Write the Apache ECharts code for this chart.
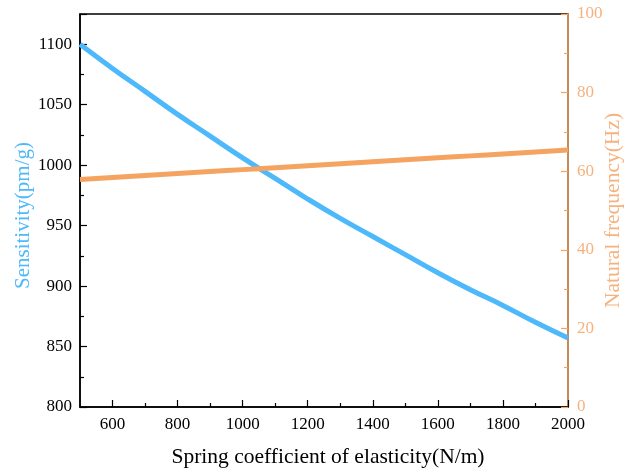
<!DOCTYPE html>
<html>
<head>
<meta charset="utf-8">
<script src="https://cdn.jsdelivr.net/npm/echarts@6/dist/echarts.min.js"></script>
<style>html,body{margin:0;padding:0;background:#fff}#c{width:625px;height:470px}</style>
</head>
<body>
<div id="c"></div>
<script>
var springK = [500,600,700,800,900,1000,1100,1200,1300,1400,1500,1600,1700,1800,1900,2000];
var sensitivity = [1100,1080,1061,1042,1024,1006,989,972,956,941,926,911,897,884,870,857];
var naturalFreq = [57.9,58.4,58.9,59.4,59.9,60.4,60.9,61.4,61.9,62.4,62.9,63.4,63.9,64.4,64.9,65.4];
var xMajorTicks = [600,800,1000,1200,1400,1600,1800,2000];
var xMinorTicks = [700,900,1100,1300,1500,1700,1900];

var BLUE = '#4DB8FA';
var ORANGE = '#F4A460';
var ORANGE_TXT = '#F5B27E';
var FONT = 'Liberation Serif';

function pairs(xs, ys){ return xs.map(function(x,i){ return [x, ys[i]]; }); }
function plain(v){ return String(v); }

var chart = echarts.init(document.getElementById('c'), null, {renderer:'canvas'});
chart.setOption({
  animation: false,
  backgroundColor: '#fff',
  grid: {left: 80, right: 57, top: 14, bottom: 63, containLabel: false, outerBoundsMode: 'none',
         show: true, borderColor: '#000', borderWidth: 1.5},
  xAxis: [{
    type: 'value', min: 500, max: 2000,
    name: 'Spring coefficient of elasticity(N/m)', nameLocation: 'middle', nameGap: 39, nameMoveOverlap: false,
    nameTextStyle: {fontFamily: FONT, fontSize: 21.5, color: '#000', padding: [0, 0, 0, 8]},
    axisLine: {show: true, lineStyle: {color: '#000', width: 1.5}},
    axisTick: {show: true, inside: true, length: 7, customValues: xMajorTicks, lineStyle: {color: '#000', width: 1.2}},
    axisLabel: {fontFamily: FONT, fontSize: 17, color: '#000', margin: 9, customValues: xMajorTicks, formatter: plain},
    splitLine: {show: false}
  }, {
    type: 'value', min: 500, max: 2000, position: 'bottom',
    axisLine: {show: false},
    axisTick: {show: true, inside: true, length: 4, customValues: xMinorTicks, lineStyle: {color: '#000', width: 1.2}},
    axisLabel: {show: false},
    splitLine: {show: false}
  }],
  yAxis: [{
    type: 'value', min: 800, max: 1125, interval: 50, position: 'left',
    name: 'Sensitivity(pm/g)', nameLocation: 'middle', nameGap: 46, nameMoveOverlap: false,
    nameTextStyle: {fontFamily: FONT, fontSize: 21, color: BLUE, padding: [0, 10, 0, 0]},
    axisLine: {show: true, lineStyle: {color: '#000', width: 1.5}},
    axisTick: {show: true, inside: true, length: 7, lineStyle: {color: '#000', width: 1.2}},
    minorTick: {show: true, splitNumber: 2, length: 4, lineStyle: {color: '#000', width: 1.2}},
    axisLabel: {fontFamily: FONT, fontSize: 17, color: '#000', margin: 8, showMaxLabel: false, formatter: plain},
    splitLine: {show: false}
  }, {
    type: 'value', min: 0, max: 100, interval: 20, position: 'right',
    name: 'Natural frequency(Hz)', nameLocation: 'middle', nameGap: 34, nameRotate: 90, nameMoveOverlap: false,
    nameTextStyle: {fontFamily: FONT, fontSize: 21.5, color: ORANGE_TXT},
    axisLine: {show: true, lineStyle: {color: ORANGE, width: 1.5}},
    axisTick: {show: true, inside: true, length: 7, lineStyle: {color: ORANGE, width: 1.2}},
    minorTick: {show: true, splitNumber: 2, length: 4, lineStyle: {color: ORANGE, width: 1.2}},
    axisLabel: {fontFamily: FONT, fontSize: 17, color: ORANGE_TXT, margin: 9},
    splitLine: {show: false}
  }],
  series: [{
    type: 'line', name: 'Sensitivity', yAxisIndex: 0, smooth: true, showSymbol: false,
    data: pairs(springK, sensitivity),
    lineStyle: {color: BLUE, width: 5}, itemStyle: {color: BLUE}
  }, {
    type: 'line', name: 'Natural frequency', yAxisIndex: 1, smooth: true, showSymbol: false,
    data: pairs(springK, naturalFreq),
    lineStyle: {color: ORANGE, width: 5}, itemStyle: {color: ORANGE}
  }]
});
</script>
</body>
</html>
